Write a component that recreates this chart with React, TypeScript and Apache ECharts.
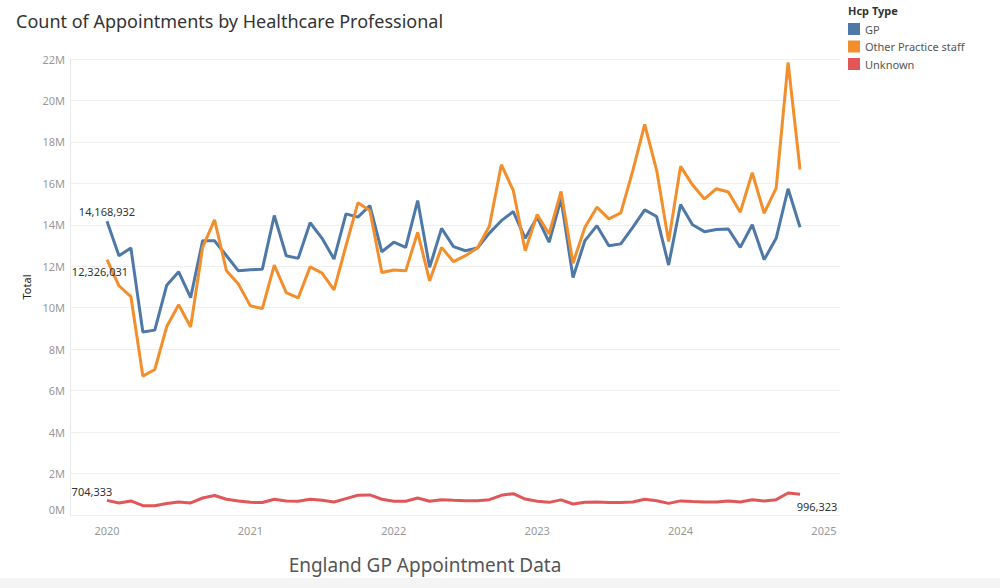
import React, { useEffect, useRef } from "react";
import * as echarts from "echarts";

const TITLE = "Count of Appointments by Healthcare Professional";
const SUBTITLE = "England GP Appointment Data";
const LEGEND_TITLE = "Hcp Type";
const Y_NAME = "Total";
const SERIES_NAMES = ["GP", "Other Practice staff", "Unknown"];
const COLORS = ["#4e79a7", "#f28e2b", "#e15759"];
const YEAR_TICKS = [2020, 2021, 2022, 2023, 2024, 2025];
const START_YEAR = 2020;

// monthly values in millions, Jan 2020 .. Nov 2024
const GP = [
  14.168932, 12.51, 12.88, 8.83, 8.92, 11.09, 11.73, 10.49, 13.23, 13.23, 12.51, 11.78,
  11.83, 11.86, 14.45, 12.51, 12.38, 14.1, 13.35, 12.35, 14.53, 14.37, 14.93, 12.7,
  13.16, 12.91, 15.17, 11.95, 13.83, 12.95, 12.75, 12.88, 13.6, 14.2, 14.64, 13.35,
  14.37, 13.16, 15.25, 11.46, 13.24, 13.96, 12.99, 13.08, 13.88, 14.72, 14.4, 12.06,
  14.98, 14.0, 13.67, 13.77, 13.8, 12.91, 14.0, 12.32, 13.35, 15.74, 13.88,
];
const OTHER = [
  12.326031, 11.06, 10.54, 6.7, 7.02, 9.09, 10.14, 9.07, 12.9, 14.24, 11.78, 11.14,
  10.09, 9.96, 12.06, 10.73, 10.47, 11.97, 11.67, 10.86, 12.99, 15.06, 14.69, 11.7,
  11.82, 11.78, 13.64, 11.3, 12.91, 12.22, 12.51, 12.88, 13.93, 16.9, 15.66, 12.75,
  14.5, 13.56, 15.61, 12.15, 13.88, 14.85, 14.29, 14.58, 16.6, 18.84, 16.63, 13.19,
  16.82, 15.93, 15.25, 15.74, 15.58, 14.61, 16.51, 14.56, 15.77, 21.84, 16.67,
];
const UNKNOWN = [
  0.704333, 0.58, 0.68, 0.45, 0.45, 0.55, 0.63, 0.58, 0.82, 0.94, 0.76, 0.68,
  0.61, 0.6, 0.76, 0.68, 0.66, 0.76, 0.71, 0.63, 0.79, 0.95, 0.97, 0.76,
  0.66, 0.66, 0.82, 0.66, 0.74, 0.71, 0.69, 0.69, 0.74, 0.95, 1.03, 0.77,
  0.66, 0.61, 0.73, 0.53, 0.61, 0.63, 0.6, 0.6, 0.63, 0.76, 0.69, 0.56,
  0.68, 0.65, 0.63, 0.63, 0.68, 0.63, 0.74, 0.68, 0.74, 1.06, 0.996323,
];

const FONT = "Noto Sans";

export default function App() {
  const ref = useRef<HTMLDivElement>(null);
  useEffect(() => {
    document.body.style.margin = "0";
    const chart = echarts.init(ref.current!, null, { renderer: "svg" });
    const labelStyle = {
      fontSize: 11,
      color: "#333",
      fontFamily: FONT,
      align: "center",
      formatter: (p: any) => Number(p.value[1]).toLocaleString("en-US"),
    };
    const build = (vals: number[], labels: Record<number, any>) =>
      vals.map((v, i) => {
        const item: any = { value: [START_YEAR + i / 12, Math.round(v * 1e6)] };
        if (labels[i]) item.label = { show: true, ...labelStyle, ...labels[i] };
        return item;
      });
    const last = UNKNOWN.length - 1;
    const seriesData = [
      build(GP, { 0: { position: [0, -4], verticalAlign: "bottom" } }),
      build(OTHER, { 0: { position: [-7, 7], verticalAlign: "top" } }),
      build(UNKNOWN, {
        0: { position: [-15, -3], verticalAlign: "bottom" },
        [last]: { position: [17, 7], verticalAlign: "top" },
      }),
    ];
    chart.setOption({
      animation: false,
      textStyle: { fontFamily: FONT },
      title: [
        {
          text: TITLE,
          left: 11,
          top: 7,
          textStyle: { fontSize: 18, fontWeight: "normal", color: "#333", fontFamily: FONT },
        },
        {
          text: LEGEND_TITLE,
          left: 843,
          top: 0,
          textStyle: { fontSize: 11, fontWeight: "bold", color: "#333", fontFamily: FONT },
        },
        {
          text: SUBTITLE,
          left: 420,
          textAlign: "center",
          top: 550,
          textStyle: { fontSize: 19, fontWeight: "normal", color: "#555", fontFamily: FONT },
        },
      ],
      legend: {
        orient: "vertical",
        left: 848,
        top: 23,
        padding: 0,
        icon: "rect",
        itemWidth: 12,
        itemHeight: 12,
        itemGap: 5.5,
        data: SERIES_NAMES,
        textStyle: { fontSize: 11, color: "#555", fontFamily: FONT },
      },
      grid: { left: 70, right: 160, top: 59, bottom: 73 },
      xAxis: {
        type: "value",
        min: 2019.742,
        max: 2025.112,
        axisLine: { show: false },
        axisTick: { show: false },
        splitLine: { show: false },
        axisLabel: {
          customValues: YEAR_TICKS,
          formatter: (v: number) => String(Math.round(v)),
          color: "#999",
          fontSize: 11,
          margin: 10,
        },
      },
      yAxis: {
        type: "value",
        min: 0,
        max: 22e6,
        interval: 2e6,
        name: Y_NAME,
        nameLocation: "middle",
        nameGap: 36,
        nameTextStyle: { fontSize: 11, fontWeight: "normal", color: "#222", fontFamily: FONT },
        axisLine: { show: true, lineStyle: { color: "#e8e8e8" } },
        axisTick: { show: false },
        splitLine: { lineStyle: { color: "#efefef" } },
        axisLabel: {
          formatter: (v: number) => `${Math.round(v / 1e6)}M`,
          color: "#999",
          fontSize: 11,
          margin: 5,
          verticalAlignMinLabel: "bottom",
        },
      },
      series: SERIES_NAMES.map((name, k) => ({
        name,
        type: "line",
        data: seriesData[k],
        symbol: "circle",
        symbolSize: 0.1,
        showSymbol: true,
        showAllSymbol: true,
        color: COLORS[k],
        itemStyle: { color: COLORS[k] },
        lineStyle: { width: 3, color: COLORS[k] },
        label: { show: false },
        labelLayout: { hideOverlap: false },
        z: k === 1 ? 3 : 2,
      })),
      graphic: [
        {
          type: "rect",
          shape: { x: 0, y: 578, width: 1000, height: 10 },
          style: { fill: "#f4f4f4" },
          silent: true,
        },
      ],
    });
    return () => chart.dispose();
  }, []);
  return (
    <div
      ref={ref}
      style={{ position: "fixed", left: 0, top: 0, width: 1000, height: 588, background: "#fff" }}
    />
  );
}
